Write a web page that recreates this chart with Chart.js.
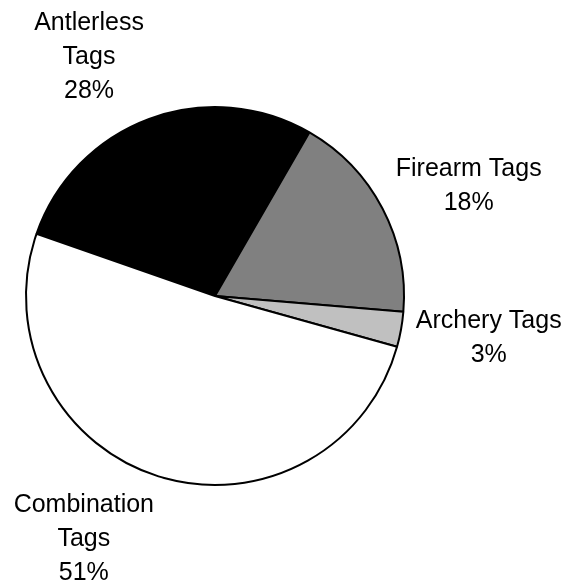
<!DOCTYPE html>
<html>
<head>
<meta charset="utf-8">
<script src="https://cdn.jsdelivr.net/npm/chart.js@4/dist/chart.umd.min.js"></script>
<style>
html,body{margin:0;padding:0;background:#fff;}
#wrap{width:571px;height:587px;position:relative;}
</style>
</head>
<body>
<div id="wrap"><canvas id="c" width="571" height="587"></canvas></div>
<script>
const categories = ["Antlerless Tags", "Firearm Tags", "Archery Tags", "Combination Tags"];
const labelLines = [["Antlerless", "Tags"], ["Firearm Tags"], ["Archery Tags"], ["Combination", "Tags"]];
const values = [28, 18, 3, 51];
const colors = ["#000000", "#808080", "#c0c0c0", "#ffffff"];

const labelPlugin = {
  id: 'outsideLabels',
  afterDatasetsDraw(chart) {
    const ctx = chart.ctx;
    const meta = chart.getDatasetMeta(0);
    const total = values.reduce((a, b) => a + b, 0);
    const lineH = 34;
    ctx.save();
    ctx.font = '25px "Liberation Sans", Arial, sans-serif';
    ctx.fillStyle = '#000';
    ctx.textAlign = 'center';
    ctx.textBaseline = 'middle';
    meta.data.forEach((arc, i) => {
      const p = arc.getProps(['x', 'y', 'startAngle', 'endAngle', 'outerRadius'], true);
      const mid = (p.startAngle + p.endAngle) / 2;
      const c = Math.cos(mid), s = Math.sin(mid);
      const lines = labelLines[i].concat([Math.round(values[i] / total * 100) + '%']);
      const w = Math.max(...lines.map(l => ctx.measureText(l).width));
      const h = lines.length * lineH;
      const px = p.x + (p.outerRadius + 15) * c;
      const py = p.y + (p.outerRadius + 15) * s;
      const cx = px + Math.sign(c) * w / 2;
      const cy = py + s * h / 2;
      lines.forEach((l, k) => {
        ctx.fillText(l, cx, cy + (k - (lines.length - 1) / 2) * lineH);
      });
    });
    ctx.restore();
  }
};

new Chart(document.getElementById('c'), {
  type: 'pie',
  data: {
    labels: categories,
    datasets: [{
      data: values,
      backgroundColor: colors,
      borderColor: '#000',
      borderWidth: 2
    }]
  },
  options: {
    responsive: false,
    animation: false,
    rotation: -70.8,
    layout: { padding: { left: 25, right: 166, top: 106, bottom: 101 } },
    plugins: { legend: { display: false }, tooltip: { enabled: false } }
  },
  plugins: [labelPlugin]
});
</script>
</body>
</html>
